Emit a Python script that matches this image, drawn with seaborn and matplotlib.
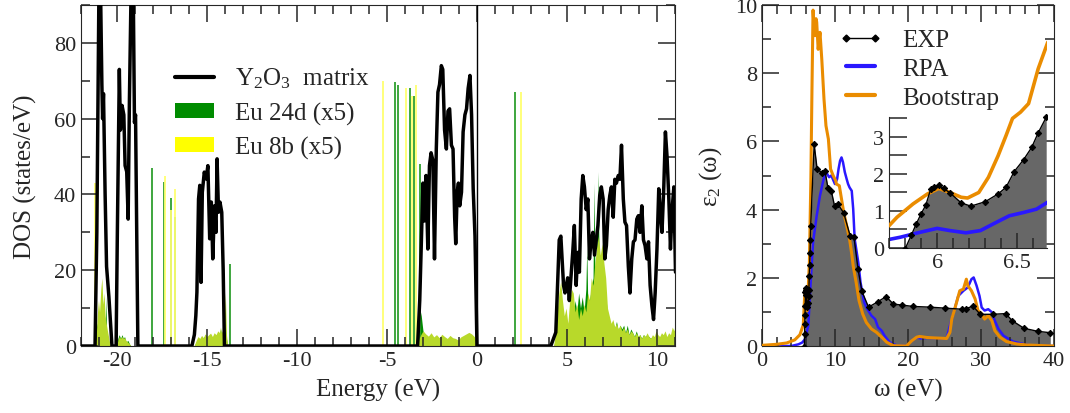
import numpy as np
import pandas as pd
import matplotlib
matplotlib.use("Agg")
import matplotlib.pyplot as plt
import seaborn as sns
from matplotlib.ticker import MultipleLocator
from matplotlib.lines import Line2D
from matplotlib.patches import Patch

# ---------------- Left panel data: DOS ----------------
y2o3_energy = [-22.0, -21.22, -21.12, -21.0, -20.92, -20.84, -20.80, -20.75, -20.66, -20.58, -20.45, -20.28,
               -20.05, -19.98, -19.87, -19.81, -19.72, -19.62, -19.55, -19.46, -19.38, -19.31, -19.21, -19.10,
               -19.03, -18.97, -18.84,
               -15.84, -15.70, -15.62, -15.56, -15.47, -15.40, -15.33, -15.26, -15.15, -15.05, -14.95, -14.85,
               -14.76, -14.68, -14.58, -14.50, -14.44, -14.36, -14.28, -14.18, -14.10, -14.03,
               -3.40, -3.30, -3.18, -3.10, -3.00, -2.92, -2.83, -2.73, -2.64, -2.55, -2.45, -2.36, -2.26, -2.17,
               -2.08, -1.98, -1.90, -1.80, -1.70, -1.61, -1.52, -1.42, -1.33, -1.24, -1.18, -1.10, -1.03, -0.96,
               -0.86, -0.77, -0.67, -0.58, -0.49, -0.39, -0.30, -0.21, -0.11, 0.0,
               4.10, 4.38, 4.57, 4.66, 4.81, 4.89, 5.04, 5.13, 5.32, 5.41, 5.51, 5.60, 5.69, 5.79, 5.88, 5.97,
               6.07, 6.16, 6.25, 6.35, 6.44, 6.53, 6.63, 6.72, 6.82, 6.91, 7.01, 7.10, 7.19, 7.29, 7.38, 7.47,
               7.57, 7.66, 7.75, 7.85, 7.94, 8.03, 8.13, 8.22, 8.31, 8.41, 8.50, 8.60, 8.69, 8.78, 8.88, 8.97,
               9.06, 9.16, 9.25, 9.34, 9.44, 9.53, 9.62, 9.72, 9.81, 9.90, 10.0, 10.10, 10.19, 10.28, 10.38,
               10.47, 10.56, 10.66, 10.75, 10.84, 10.94, 11.03]
y2o3_dos = [0, 0, 30, 96, 96, 69, 60, 66.6, 40, 21, 13, 0,
            0, 30, 73, 57, 63.5, 61, 47.6, 46, 33.5, 65, 96, 96,
            59, 61, 0,
            0, 3, 8, 14.2, 38.8, 42.4, 16.8, 40.6, 45.9, 44.1, 47.6, 28.3,
            38, 23, 37, 30, 49.4, 35.3, 38, 35.3, 20, 0,
            0, 0, 12, 25.6, 43, 33, 45, 25.6, 47.6, 51, 49, 23, 52, 67,
            69, 74, 73, 57, 52, 62, 62.6, 53, 52, 34, 27, 40.6, 43, 37,
            40.6, 56.5, 61, 62.6, 68, 71.4, 61, 41.5, 29, 0,
            0, 3.6, 28, 29, 16, 14, 18, 12, 24.7, 31.8, 16, 24.7, 19.5, 38.8, 45, 42,
            36, 38.8, 23, 28, 30, 24, 28, 31.8, 39.7, 42, 38.8, 23, 26.5, 36, 39.7, 42,
            34, 44, 43, 45, 44, 53, 38.8, 32.7, 31.8, 21, 14, 23, 27.5, 28, 33.5, 34.4,
            30, 37, 28, 26.5, 23, 27.5, 16, 10.6, 7, 14, 25.6, 41.5, 35, 30, 42,
            56.5, 50, 38.8, 25.6, 36, 42, 19.5]

eu24d_energy = [-22.0, -21.30, -21.18, -21.12, -21.05, -20.98, -20.92, -20.85, -20.78, -20.72, -20.66, -20.62,
                -20.58, -20.52, -20.45, -20.38,
                -20.02, -19.95, -19.88, -19.80, -19.72, -19.65, -19.58, -19.50, -19.40, -19.30, -19.22,
                -15.72, -15.60, -15.50, -15.40, -15.30, -15.20, -15.10, -15.00, -14.90, -14.80, -14.70, -14.60,
                -14.50, -14.40, -14.30, -14.25, -14.20, -14.10, -14.05, -13.98, -13.92, -13.85,
                -3.30, -3.22, -3.12, -3.00, -2.85, -2.70, -2.55, -2.40, -2.25, -2.10, -1.95, -1.80, -1.65,
                -1.50, -1.35, -1.20, -1.05, -0.90, -0.75, -0.60, -0.45, -0.30, -0.15, -0.05, 0.0,
                4.25, 4.35, 4.45, 4.55, 4.65, 4.75, 4.85, 4.95, 5.05, 5.15, 5.25, 5.35, 5.45, 5.55, 5.65, 5.75,
                5.85, 5.95, 6.05, 6.10, 6.15, 6.25, 6.35, 6.45, 6.50, 6.55, 6.65, 6.72, 6.78, 6.85, 6.95, 7.05,
                7.15, 7.25, 7.35, 7.45, 7.55, 7.65, 7.75, 7.85, 7.95, 8.05, 8.15, 8.25, 8.35, 8.45, 8.55, 8.65,
                8.75, 8.85, 8.95, 9.05, 9.15, 9.25, 9.35, 9.45, 9.55, 9.65, 9.75, 9.85, 9.95, 10.05, 10.15,
                10.25, 10.35, 10.45, 10.55, 10.65, 10.75, 10.85, 10.95, 11.0]
eu24d_dos = [0, 0, 3, 6, 4, 8, 5, 7, 4, 6, 3, 13,
             3, 2, 1, 0,
             0, 2, 3, 2, 3, 2, 2.5, 1, 1.5, 0.5, 0,
             0, 1, 2, 1.5, 2.5, 2, 3, 2, 2.5, 3, 2, 3,
             2.5, 3.5, 3, 4.5, 3, 4, 2, 5, 2, 0,
             0, 3, 9, 4, 2.5, 2, 3, 2, 2.5, 1.8, 2.6, 2, 1.5,
             2.2, 1.8, 1.5, 1.2, 1.8, 2.2, 2.5, 3.0, 2.6, 2.0, 1.0, 0,
             0, 1, 3, 5, 6, 5, 4, 6, 4, 7, 9, 8, 12, 9, 14, 10,
             13, 9, 15, 26, 13, 12, 15, 18, 43, 20, 24, 46, 25, 22, 20, 18,
             14, 8, 6, 5, 6.5, 4.5, 6.5, 4, 5.5, 4.5, 5.5, 3.5, 5.5, 3, 4.5, 3.5,
             2.5, 4, 2.5, 3, 2, 3, 2.5, 3, 2.5, 2, 2.6, 2.2, 3, 2.6, 2.2,
             2.6, 2.5, 3, 2.2, 2.8, 2.5, 3.5, 3, 4]

eu8b_energy = [-22.0, -21.30, -21.16, -21.10, -21.03, -20.97, -20.90, -20.84, -20.78, -20.72, -20.66, -20.60,
               -20.53, -20.45, -20.38,
               -20.02, -19.95, -19.88, -19.80, -19.72, -19.65, -19.58, -19.50, -19.40, -19.30, -19.22,
               -15.72, -15.60, -15.50, -15.40, -15.30, -15.20, -15.10, -15.00, -14.90, -14.80, -14.70, -14.60,
               -14.50, -14.40, -14.30, -14.25, -14.20, -14.10, -14.05, -13.98, -13.92, -13.85,
               -3.30, -3.22, -3.12, -3.00, -2.85, -2.70, -2.55, -2.40, -2.25, -2.10, -1.95, -1.80, -1.65,
               -1.50, -1.35, -1.20, -1.05, -0.90, -0.75, -0.60, -0.45, -0.30, -0.15, -0.05, 0.0,
               4.25, 4.35, 4.45, 4.55, 4.65, 4.75, 4.85, 4.95, 5.05, 5.15, 5.25, 5.35, 5.45, 5.55, 5.65, 5.75,
               5.85, 5.95, 6.05, 6.15, 6.25, 6.35, 6.45, 6.55, 6.65, 6.75, 6.85, 6.95, 7.05, 7.15, 7.25, 7.35,
               7.45, 7.55, 7.65, 7.75, 7.85, 7.95, 8.05, 8.15, 8.25, 8.35, 8.45, 8.55, 8.65, 8.75, 8.85, 8.95,
               9.05, 9.15, 9.25, 9.35, 9.45, 9.55, 9.65, 9.75, 9.85, 9.95, 10.05, 10.15, 10.25, 10.35, 10.45,
               10.55, 10.65, 10.75, 10.85, 10.95, 11.0]
eu8b_dos = [0, 0, 2, 8, 12, 9, 15, 18, 11, 14, 8, 6,
            4, 2, 0,
            0, 1.5, 2.5, 2, 2.5, 2.0, 2.2, 1.5, 1, 0.5, 0,
            0, 1.5, 2.5, 2, 2.8, 2.2, 3.2, 2.5, 3, 3.4, 2.5, 3.5,
            3, 4, 3.5, 5, 3.5, 4.5, 6, 14, 3, 0,
            0, 2, 3, 4, 3.2, 2.6, 3.5, 2.4, 3.0, 2.2, 3.1, 2.5, 2.0,
            2.8, 2.2, 2.0, 1.6, 2.4, 2.8, 3.2, 3.6, 3.2, 2.5, 1.2, 0,
            0, 3, 9, 14, 17, 12, 8, 10, 6, 12, 15, 14, 9, 11, 7, 10,
            8, 11, 9, 14, 12, 18, 16, 22, 26, 29, 24, 27, 22, 18, 10, 8,
            6, 7, 5, 6, 4.5, 5.5, 4, 5, 3.5, 4.5, 3, 4, 3.5, 2.5, 3.5, 2.5,
            3, 2, 3, 2.5, 3.5, 2.5, 2, 3, 2.5, 4, 3, 2.5, 3.5, 3, 4,
            2.5, 3.5, 3, 5, 4, 5.5]

eu24d_spike_energy = [-18.03, -17.40, -17.02, -16.78, -13.73, -4.57, -4.36, -3.70, -3.50, -3.16, 2.10]
eu24d_spike_height = [47, 43.4, 39, 34, 21.7, 69.7, 69, 68, 66, 48, 67]
eu8b_spike_energy = [-21.20, -17.34, -17.00, -16.76, -5.24, -3.92, -3.60, -3.37, 2.45]
eu8b_spike_height = [43, 45, 36, 41.5, 70, 68, 66, 69, 67]

# ---------------- Right panel data: epsilon_2 ----------------
exp_energy = [5.80, 5.84, 5.87, 5.90, 5.93, 5.96, 5.98, 6.01, 6.04, 6.08, 6.15, 6.21, 6.30, 6.38, 6.43,
              6.48, 6.54, 6.59, 6.63, 6.68, 7.15, 7.55, 8.2, 8.65, 9.05, 9.5, 9.95, 10.45, 11.2, 12.1, 12.6,
              13.15, 13.7, 14.6, 15.9, 17.0, 18.0, 19.2, 20.7, 23.0, 25.1, 27.4, 28.0, 28.9, 29.9, 31.6,
              33.4, 34.3, 35.9, 37.8, 39.5]
exp_eps = [-0.03, 0.35, 0.65, 0.92, 1.16, 1.59, 1.64, 1.70, 1.61, 1.49, 1.22, 1.13, 1.25, 1.46, 1.64,
           2.06, 2.39, 2.72, 3.11, 3.53, 5.92, 5.2, 5.08, 5.12, 4.62, 4.55, 4.1, 4.15, 3.9, 3.22, 3.2,
           2.27, 1.6, 1.14, 1.3, 1.45, 1.23, 1.2, 1.16, 1.14, 1.11, 1.08, 1.1, 1.17, 0.93, 0.93,
           0.95, 0.74, 0.52, 0.43, 0.39]

rpa_energy = [0, 4.0, 5.0, 5.5, 5.9, 6.35, 6.67, 7.0, 7.5, 7.95, 8.4, 8.77, 8.95, 9.2, 9.5, 9.7, 10.0, 10.3,
              10.5, 10.7, 10.9, 11.1, 11.35, 11.6, 11.8, 12.0, 12.3, 12.5, 12.7, 13.2, 13.5, 14.0, 14.4, 14.7,
              15.0, 15.5, 15.9, 16.4, 16.8, 17.5, 18.5, 19.8, 20.5, 21.2, 21.8, 22.6, 25.3, 25.75, 26.2,
              26.9, 27.6, 28.2, 28.7, 29.0, 29.4, 29.8, 30.1, 30.5, 31.0, 31.5, 31.9, 32.4, 33.1, 34.4,
              35.8, 37.0, 40.0]
rpa_eps = [0, 0, 0.05, 0.1, 0.2, 0.6, 1.87, 3.04, 3.82, 4.41, 4.85, 5.14, 5.04, 4.95, 5.0, 4.9, 4.75, 4.9,
           5.2, 5.43, 5.53, 5.39, 5.1, 4.9, 4.75, 4.65, 4.55, 4.02, 3.14, 2.45, 1.87, 1.28, 1.09, 0.99,
           0.89, 0.79, 0.55, 0.45, 0.3, 0.11, 0.01, 0.0, 0.15, 0.25, 0.22, 0.24, 0.22, 0.6, 0.94,
           1.47, 1.62, 1.72, 1.96, 2.01, 1.77, 1.47, 1.13, 1.04, 1.08, 0.99, 0.74, 0.5, 0.3, 0.13,
           0.06, 0.0, 0.0]

boot_energy = [0, 2.0, 3.4, 4.5, 5.2, 5.66, 5.9, 6.2, 6.5, 6.7, 6.85, 7.0, 7.15, 7.26, 7.4, 7.5, 7.7, 7.95,
               8.2, 8.5, 8.77, 9.1, 9.4, 9.77, 10.1, 10.2, 10.6, 10.9, 11.2, 11.6, 12.0, 12.3, 12.5, 12.9,
               13.3, 13.8, 14.3, 15.0, 15.7, 16.4, 17.1, 18.0, 19.8, 20.5, 21.2, 21.6, 22.6, 25.3, 25.75,
               26.0, 26.4, 27.1, 27.6, 28.0, 28.2, 28.7, 29.2, 29.6, 30.1, 30.5, 31.0, 31.5, 31.9, 32.6,
               33.5, 34.9, 36.3, 40.0]
boot_eps = [0.02, 0.05, 0.09, 0.18, 0.33, 0.62, 1.67, 1.04, 2.45, 4.9, 7.5, 9.85, 9.3, 9.1, 9.6, 9.5, 8.7,
            9.2, 8.4, 7.24, 6.46, 6.07, 5.19, 4.99, 4.85, 4.75, 4.7, 4.31, 3.92, 3.53, 3.14, 2.7, 2.35,
            1.87, 1.33, 0.94, 0.69, 0.5, 0.4, 0.26, 0.11, 0.01, 0.0, 0.15, 0.26, 0.28, 0.25, 0.22, 0.4,
            0.79, 1.08, 1.62, 1.67, 1.96, 1.77, 1.62, 1.38, 1.04, 0.94, 0.79, 0.89, 0.74, 0.45, 0.26,
            0.13, 0.06, 0.03, 0.0]

inset_rpa_energy = [5.70, 5.77, 5.89, 6.0, 6.08, 6.18, 6.27, 6.35, 6.45, 6.54, 6.62, 6.69]
inset_rpa_eps = [0.23, 0.29, 0.42, 0.53, 0.47, 0.41, 0.47, 0.65, 0.87, 0.96, 1.05, 1.24]
inset_boot_energy = [5.70, 5.75, 5.85, 5.94, 6.01, 6.08, 6.15, 6.19, 6.26, 6.32, 6.38, 6.43, 6.47, 6.52,
                     6.57, 6.63, 6.69]
inset_boot_eps = [0.6, 0.83, 1.19, 1.46, 1.61, 1.5, 1.37, 1.35, 1.5, 1.91, 2.49, 3.04, 3.5, 3.67, 3.9,
                  4.84, 5.56]
inset_x_ticks = [6.0, 6.5]
inset_x_labels = ["6", "6.5"]
inset_y_ticks = [0, 1, 2, 3]
inset_y_minor = [0.5, 1.5, 2.5, 3.5]

# ---------------- Style ----------------
sns.set_style("ticks")
plt.rcParams.update({
    "font.family": ["Liberation Serif", "DejaVu Serif"],
    "mathtext.fontset": "custom",
    "mathtext.rm": "Liberation Serif",
    "mathtext.it": "Liberation Serif:italic",
    "axes.unicode_minus": False,
    "axes.axisbelow": False,
    "xtick.direction": "in",
    "ytick.direction": "in",
})

GREEN = "#008c00"
GREEN_SPIKE = "#2f9f2f"
LIME = "#b8d92a"
YELLOW = "#ffff00"
YELLOW_SPIKE = "#ffff70"
GRAY = "#676767"
BLUE = "#2a18ff"
ORANGE = "#ea8c00"

fig = plt.figure(figsize=(10.7, 4.14), dpi=100)
ax1 = fig.add_axes([0.0757, 0.1618, 0.5551, 0.8237])
ax2 = fig.add_axes([0.7121, 0.1618, 0.2729, 0.8237])

# ---- left panel ----
ax1.fill_between(eu24d_energy, eu24d_dos, 0, color=GREEN, lw=0, zorder=1)
ax1.vlines(eu24d_spike_energy, 0, eu24d_spike_height, color=GREEN_SPIKE, lw=1.3, zorder=1)
ax1.fill_between(eu8b_energy, eu8b_dos, 0, color=LIME, lw=0, zorder=2)
ax1.vlines(eu8b_spike_energy, 0, eu8b_spike_height, color=YELLOW_SPIKE, lw=1.3, zorder=2)
sns.lineplot(x=y2o3_energy, y=y2o3_dos, ax=ax1, color="black", lw=2.5, estimator=None, sort=False,
             legend=False, zorder=4)
ax1.axvline(0, color="black", lw=1.0, zorder=3)
ax1.set_xlim(-22, 11)
ax1.set_ylim(0, 90)
ax1.xaxis.set_major_locator(MultipleLocator(5))
ax1.xaxis.set_minor_locator(MultipleLocator(1))
ax1.yaxis.set_major_locator(MultipleLocator(20))
ax1.yaxis.set_minor_locator(MultipleLocator(10))
ax1.tick_params(which="both", top=True, right=True, width=1.1, labelsize=16)
ax1.tick_params(which="major", length=12)
ax1.tick_params(which="minor", length=6.5)
ax1.set_xlabel("Energy (eV)", fontsize=18, labelpad=6)
ax1.set_ylabel("DOS (states/eV)", fontsize=18, labelpad=12)

h_left = [Line2D([], [], color="black", lw=3),
          Patch(facecolor=GREEN, edgecolor="none"),
          Patch(facecolor=YELLOW, edgecolor="none")]
ax1.legend(h_left, ["Y$_2$O$_3$  matrix", "Eu 24d (x5)", "Eu 8b (x5)"], loc="upper left",
           bbox_to_anchor=(0.158, 0.822), frameon=False, fontsize=18, handlelength=1.55,
           handleheight=0.55, handletextpad=0.85, labelspacing=0.45, borderpad=0, borderaxespad=0)

# ---- right panel ----
ax2.fill_between(exp_energy, exp_eps, 0, color=GRAY, lw=0, zorder=1)
sns.lineplot(x=rpa_energy, y=rpa_eps, ax=ax2, color=BLUE, lw=1.8, estimator=None, sort=False,
             legend=False, zorder=2)
sns.lineplot(x=boot_energy, y=boot_eps, ax=ax2, color=ORANGE, lw=2.2, estimator=None, sort=False,
             legend=False, zorder=3)
sns.lineplot(x=exp_energy, y=exp_eps, ax=ax2, color="black", lw=1.0, marker="D", markersize=3.2,
             markeredgecolor="black", estimator=None, sort=False, legend=False, zorder=4)
ax2.set_xlim(0, 40)
ax2.set_ylim(0, 10)
ax2.xaxis.set_major_locator(MultipleLocator(10))
ax2.xaxis.set_minor_locator(MultipleLocator(2))
ax2.yaxis.set_major_locator(MultipleLocator(2))
ax2.yaxis.set_minor_locator(MultipleLocator(1))
ax2.tick_params(which="both", top=True, right=True, width=1.1, labelsize=16)
ax2.tick_params(which="major", length=12)
ax2.tick_params(which="minor", length=6.5)
ax2.set_xlabel("ω (eV)", fontsize=18, labelpad=6)
ax2.set_ylabel("ε$_2$ (ω)", fontsize=18, labelpad=8)

h_right = [Line2D([], [], color="black", lw=1.0, marker="D", markersize=3.5),
           Line2D([], [], color=BLUE, lw=3),
           Line2D([], [], color=ORANGE, lw=3)]
ax2.legend(h_right, ["EXP", "RPA", "Bootstrap"], loc="upper left", bbox_to_anchor=(0.262, 0.93),
           frameon=False, fontsize=18, numpoints=2, handlelength=1.75, handletextpad=0.8,
           labelspacing=0.25, borderpad=0, borderaxespad=0)

# ---- inset: taller axes whose left spine stops at 3.55, so the Bootstrap curve can rise above it ----
# inset frame bottom at 0.3986 (eps=0), 0.0894 fig-height per unit of eps
axin = fig.add_axes([0.8308, 0.3986, 0.1477, 0.0894 * 5.7])
axin.set_facecolor("none")
axin.fill_between(exp_energy[:20], exp_eps[:20], 0, color=GRAY, lw=0, zorder=1)
sns.lineplot(x=inset_rpa_energy, y=inset_rpa_eps, ax=axin, color=BLUE, lw=2.6, estimator=None,
             sort=False, legend=False, zorder=2)
sns.lineplot(x=inset_boot_energy, y=inset_boot_eps, ax=axin, color=ORANGE, lw=2.6, estimator=None,
             sort=False, legend=False, zorder=3)
sns.lineplot(x=exp_energy[:20], y=exp_eps[:20], ax=axin, color="black", lw=1.0, marker="D",
             markersize=3.2, markeredgecolor="black", estimator=None, sort=False, legend=False, zorder=4)
axin.set_xlim(5.70, 6.685)
axin.set_ylim(0, 5.7)
axin.spines["top"].set_visible(False)
axin.spines["right"].set_visible(False)
axin.spines["left"].set_bounds(0, 3.55)
axin.set_xticks(inset_x_ticks, labels=inset_x_labels)
axin.xaxis.set_minor_locator(MultipleLocator(0.1))
axin.set_yticks(inset_y_ticks)
axin.set_yticks(inset_y_minor, minor=True)
axin.tick_params(which="both", top=False, right=False, width=1.1, labelsize=16)
axin.tick_params(axis="y", which="both", length=13)
axin.tick_params(axis="x", which="major", length=11)
axin.tick_params(axis="x", which="minor", length=7)
axin.set_xlabel("")
axin.set_ylabel("")

fig.savefig("out.png", dpi=100)
